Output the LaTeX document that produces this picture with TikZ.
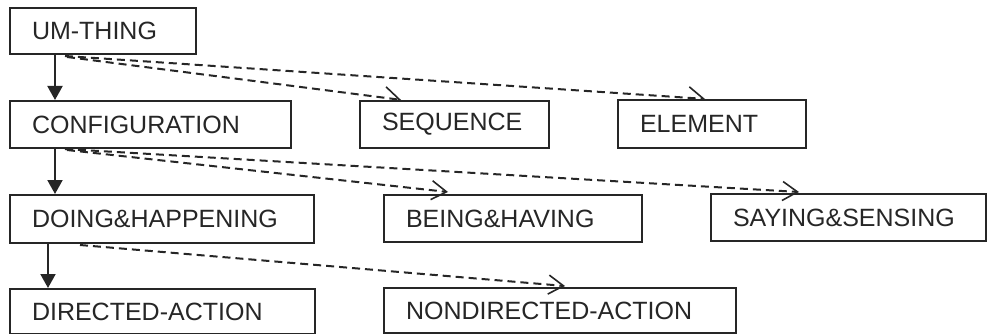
\documentclass[tikz,border=0pt]{standalone}
\usepackage{fontspec}
\setmainfont{Liberation Sans}
\usetikzlibrary{arrows.meta,calc}

\begin{document}
\begin{tikzpicture}[x=1pt,y=-1pt,
  concept/.style={draw=black!85, line width=2pt, rectangle, anchor=north west,
    inner xsep=22pt, inner ysep=0pt, align=left,
    font=\fontsize{25}{30}\selectfont, text=black!85},
  isa/.style={draw=black!85, line width=2pt, -{Triangle[length=14pt,width=15pt]}},
  rel/.style={draw=black!85, line width=2pt, dash pattern=on 8pt off 5pt,
    -{Straight Barb[length=15pt,width=19pt,line width=1.6pt]}},
  relhalf/.style={draw=black!85, line width=2pt, dash pattern=on 8pt off 5pt,
    -{Straight Barb[harpoon,length=15pt,width=22pt,line width=1.6pt]}}]
  \useasboundingbox (0,0) rectangle (987,334);

  % concept boxes: width minus 44pt padding gives the text width
  \node[concept, text width=142pt, minimum height=46pt] (um)     at (9,7)    {UM-THING};
  \node[concept, text width=237pt, minimum height=47pt] (config) at (9,100)  {CONFIGURATION};
  \node[concept, text width=145pt, minimum height=47pt] (seq)    at (359,100){SEQUENCE};
  \node[concept, text width=144pt, minimum height=48pt] (elem)   at (617,99) {ELEMENT};
  \node[concept, text width=260pt, minimum height=48pt] (doing)  at (9,194)  {DOING\&HAPPENING};
  \node[concept, text width=214pt, minimum height=47pt] (being)  at (383,194){BEING\&HAVING};
  \node[concept, text width=231pt, minimum height=47pt] (saying) at (710,193){SAYING\&SENSING};
  \node[concept, text width=261pt, minimum height=45pt] (direct) at (9,288)  {DIRECTED-ACTION};
  \node[concept, text width=308pt, minimum height=45pt] (nondir) at (383,287){NONDIRECTED-ACTION};

  % subtype links
  \draw[isa] ($(um.south west)+(46,0)$) -- ($(config.north west)+(46,0)$);
  \draw[isa] ($(config.south west)+(46,0)$) -- ($(doing.north west)+(46,0)$);
  \draw[isa] ($(doing.south west)+(39,0)$) -- ($(direct.north west)+(39,0)$);

  % sibling links
  \draw[relhalf] ($(um.south west)+(58,2)$) -- ($(seq.north west)+(43,0)$);
  \draw[relhalf] ($(um.south west)+(56,1)$) -- ($(elem.north west)+(89,0)$);
  \draw[rel] ($(config.south west)+(58,1)$) -- ($(being.north west)+(65,-2)$);
  \draw[rel] ($(config.south west)+(56,0)$) -- ($(saying.north west)+(89,-1)$);
  \draw[rel] ($(doing.south west)+(71,1)$) -- ($(nondir.north west)+(182,-1)$);
\end{tikzpicture}
\end{document}
